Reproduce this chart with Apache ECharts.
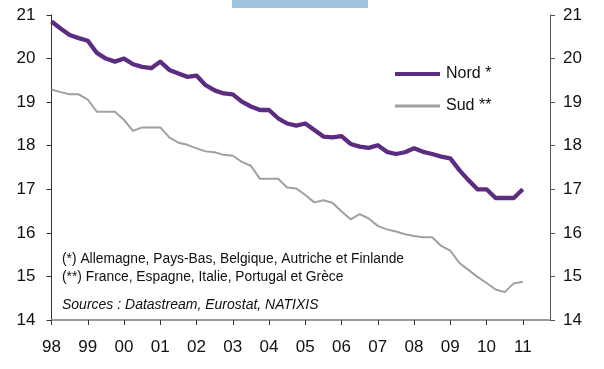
<!DOCTYPE html>
<html>
<head>
<meta charset="utf-8">
<script src="https://cdn.jsdelivr.net/npm/echarts@6/dist/echarts.min.js"></script>
<style>
html,body{margin:0;padding:0;background:#fff;}
#chart{width:604px;height:369px;}
</style>
</head>
<body>
<div id="chart"></div>
<script>
// Quarterly data, 1998 Q1 to 2011 Q1
var yearLabels = ['98','99','00','01','02','03','04','05','06','07','08','09','10','11'];
var quarterNames = ['T1','T2','T3','T4'];

var nord = [
  20.85, 20.69, 20.54, 20.47,
  20.41, 20.13, 20.00, 19.93,
  20.00, 19.87, 19.81, 19.78,
  19.93, 19.74, 19.66, 19.58,
  19.61, 19.39, 19.27, 19.20,
  19.18, 19.01, 18.90, 18.82,
  18.82, 18.63, 18.51, 18.46,
  18.51, 18.36, 18.21, 18.19,
  18.22, 18.04, 17.98, 17.95,
  18.01, 17.86, 17.81, 17.85,
  17.94, 17.86, 17.81, 17.75,
  17.71, 17.44, 17.21, 17.00,
  17.00, 16.80, 16.80, 16.80,
  17.00
];

var sud = [
  19.29, 19.23, 19.18, 19.18,
  19.06, 18.78, 18.78, 18.78,
  18.59, 18.34, 18.42, 18.42,
  18.42, 18.19, 18.07, 18.02,
  17.94, 17.87, 17.85, 17.79,
  17.77, 17.63, 17.54, 17.24,
  17.24, 17.24, 17.04, 17.02,
  16.87, 16.70, 16.75, 16.69,
  16.49, 16.31, 16.43, 16.33,
  16.16, 16.08, 16.03, 15.97,
  15.93, 15.90, 15.90, 15.70,
  15.59, 15.31, 15.15, 14.99,
  14.85, 14.70, 14.64, 14.84,
  14.88
];

var seriesNames = ['Nord *', 'Sud **'];
var noteLines = [
  '(*) Allemagne, Pays-Bas, Belgique, Autriche et Finlande',
  '(**) France, Espagne, Italie, Portugal et Grèce'
];
var sourceText = 'Sources : Datastream, Eurostat, NATIXIS';

// categories: every quarter 1998 T1 .. 2011 T4 (axis runs to end of 2011)
var categories = [];
yearLabels.forEach(function (y) {
  quarterNames.forEach(function (q) { categories.push(y + ' ' + q); });
});

var FONT = '"Liberation Sans", Arial, sans-serif';
var NORD_COLOR = '#5C2C80';
var SUD_COLOR = '#A0A0A0';

var chart = echarts.init(document.getElementById('chart'), null, {renderer: 'canvas'});
chart.setOption({
  animation: false,
  backgroundColor: '#ffffff',
  grid: {left: 51.5, right: 54, top: 15, bottom: 49, containLabel: false},
  legend: [
    {
      left: 390, top: 61, itemWidth: 45, itemHeight: 4, itemGap: 0,
      data: [{name: seriesNames[0], icon: 'rect'}],
      textStyle: {fontFamily: FONT, fontSize: 16, color: '#111', padding: [0, 0, 0, 1]}
    },
    {
      left: 390, top: 93, itemWidth: 45, itemHeight: 3, itemGap: 0,
      data: [{name: seriesNames[1], icon: 'rect'}],
      textStyle: {fontFamily: FONT, fontSize: 16, color: '#111', padding: [0, 0, 0, 1]}
    }
  ],
  xAxis: {
    type: 'category',
    data: categories,
    boundaryGap: false,
    axisLine: {lineStyle: {color: '#9a9a9a', width: 2}},
    axisTick: {
      show: true, length: 5,
      interval: function (i) { return i % 4 === 0; },
      lineStyle: {color: '#333', width: 1}
    },
    axisLabel: {
      interval: function (i) { return i % 4 === 0; },
      formatter: function (v) { return v.split(' ')[0]; },
      margin: 19,
      fontFamily: FONT, fontSize: 17, color: '#111'
    },
    splitLine: {show: false}
  },
  yAxis: [
    {
      type: 'value', min: 14, max: 21, interval: 1, position: 'left',
      axisLine: {show: true, lineStyle: {color: '#333', width: 1}},
      axisTick: {show: true, length: 5, lineStyle: {color: '#333'}},
      axisLabel: {margin: 16, fontFamily: FONT, fontSize: 17, color: '#111'},
      splitLine: {show: false}
    },
    {
      type: 'value', min: 14, max: 21, interval: 1, position: 'right',
      axisLine: {show: true, lineStyle: {color: '#555', width: 1}},
      axisTick: {show: true, length: 5, lineStyle: {color: '#555'}},
      axisLabel: {margin: 13, fontFamily: FONT, fontSize: 17, color: '#111'},
      splitLine: {show: false}
    }
  ],
  series: [
    {
      name: seriesNames[0], type: 'line', data: nord, symbol: 'none',
      lineStyle: {color: NORD_COLOR, width: 4.3, join: 'round'},
      itemStyle: {color: NORD_COLOR}, z: 3
    },
    {
      name: seriesNames[1], type: 'line', data: sud, symbol: 'none',
      lineStyle: {color: SUD_COLOR, width: 2, join: 'round'},
      itemStyle: {color: SUD_COLOR}, z: 2
    }
  ],
  graphic: [
    {type: 'rect', left: 232, top: 0, shape: {width: 136, height: 8}, style: {fill: '#9DC3DF'}},
    {type: 'text', left: 62, top: 252, style: {text: noteLines[0], font: '13.8px ' + FONT, fill: '#111'}},
    {type: 'text', left: 62, top: 270, style: {text: noteLines[1], font: '13.8px ' + FONT, fill: '#111'}},
    {type: 'text', left: 62, top: 298, style: {text: sourceText, font: 'italic 14px ' + FONT, fill: '#111'}}
  ]
});
</script>
</body>
</html>
